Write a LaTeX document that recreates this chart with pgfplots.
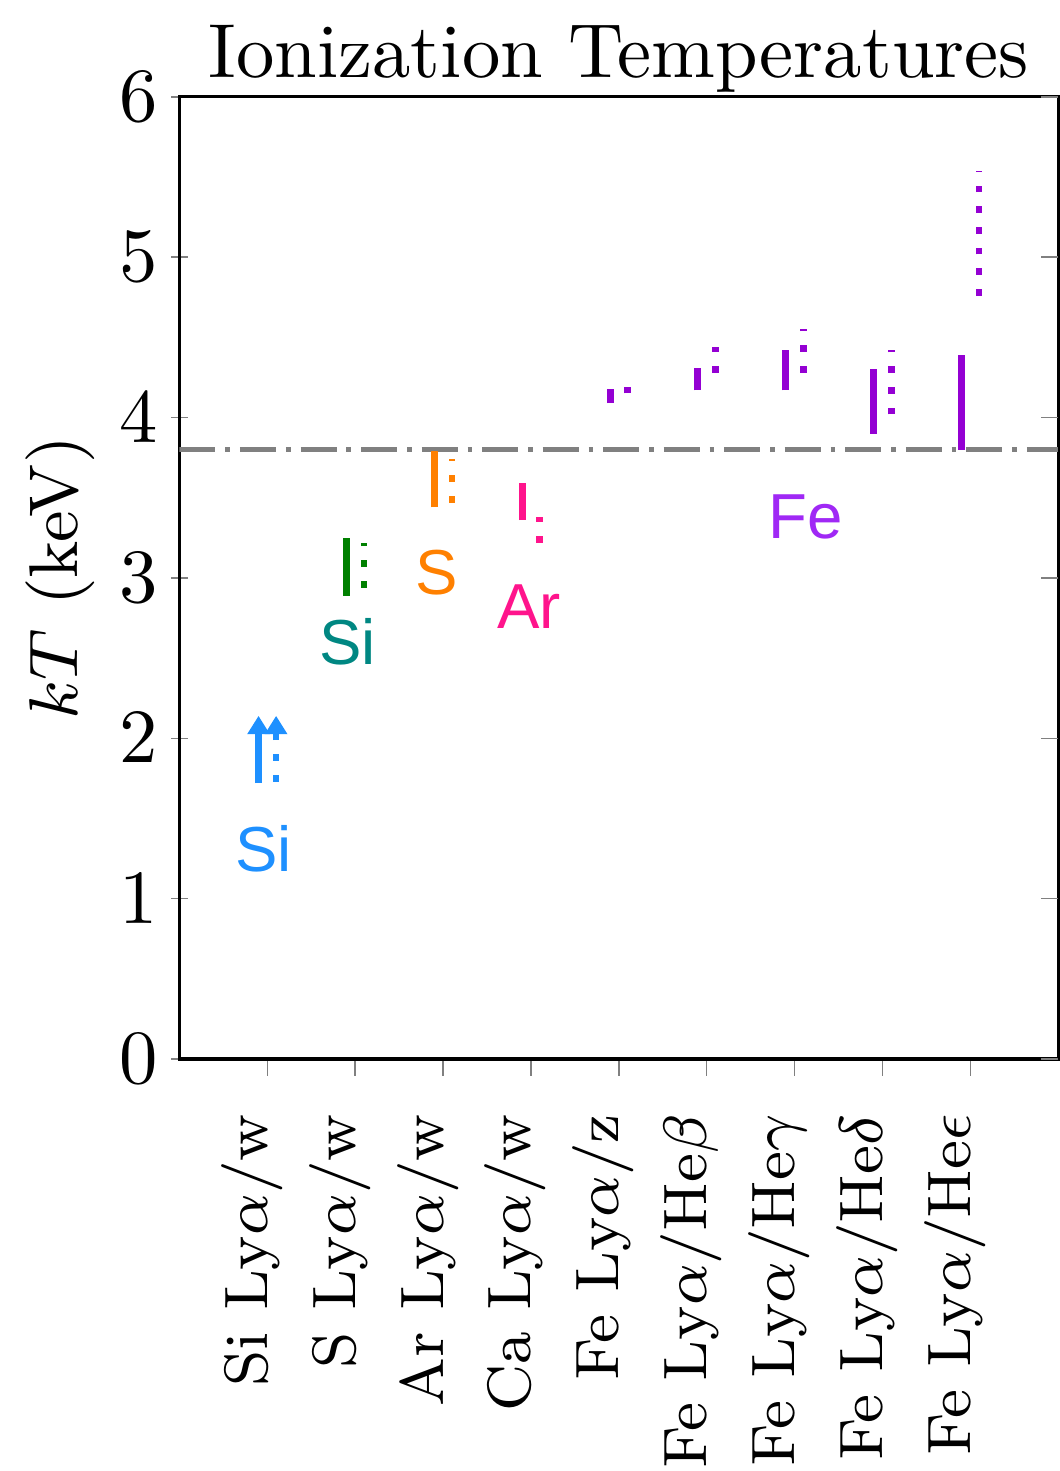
\documentclass[border=0pt]{standalone}
\usepackage{fontspec}
\usepackage{pgfplots}
\pgfplotsset{compat=1.18}
\usetikzlibrary{arrows.meta}
\newfontfamily\lbl{Liberation Sans}
\definecolor{cblue}{RGB}{30,144,255}
\definecolor{cgreen}{RGB}{0,128,0}
\definecolor{cteal}{RGB}{0,135,130}
\definecolor{corange}{RGB}{255,128,0}
\definecolor{cpink}{RGB}{255,20,140}
\definecolor{cpurple}{RGB}{148,0,211}
\definecolor{cfe}{RGB}{160,40,245}
\definecolor{cref}{RGB}{128,128,128}
\begin{document}
\begin{tikzpicture}
\begin{axis}[
  scale only axis,
  width=114.7pt, height=125.6pt,
  xmin=0, xmax=10, ymin=0, ymax=6,
  xtick={1,...,9},
  xticklabels={Si Ly$\alpha$/w, S Ly$\alpha$/w, Ar Ly$\alpha$/w, Ca Ly$\alpha$/w, Fe Ly$\alpha$/z, Fe Ly$\alpha$/He$\beta$, Fe Ly$\alpha$/He$\gamma$, Fe Ly$\alpha$/He$\delta$, Fe Ly$\alpha$/He$\epsilon$},
  xticklabel style={rotate=90, anchor=base east, font=\footnotesize, inner ysep=0pt, inner xsep=0.3pt, xshift=-4.5pt},
  ytick={0,...,6},
  xtick pos=bottom, xtick align=outside,
  ytick pos=left, ytick align=center,
  extra y ticks={0,...,6},
  extra y tick labels={},
  extra y tick style={ytick pos=right, ytick align=inside},
  major tick length=2.2pt,
  yticklabel style={xshift=1.8pt},
  title={Ionization Temperatures},
  title style={yshift=-9pt},
  ylabel={$kT$ (keV)},
  ylabel style={font=\small},
  ylabel shift=-4.7pt,
  solid seg/.style={line width=0.9pt},
  dot seg/.style={line width=0.85pt, dash pattern=on 0.85pt off 1.85pt},
]
% reference temperature
\addplot[cref, line width=0.6pt, dash pattern=on 4.7pt off 1.3pt on 0.6pt off 1.3pt] coordinates {(0,3.8) (10,3.8)};
% Si Lya/w (lower limits)
\addplot[cblue, solid seg, -{Triangle[width=2.8pt,length=2.4pt]}] coordinates {(0.9,1.72) (0.9,2.14)};
\addplot[cblue, dot seg, -{Triangle[width=2.8pt,length=2.4pt]}] coordinates {(1.1,1.73) (1.1,2.14)};
% S Lya/w
\addplot[cgreen, solid seg] coordinates {(1.9,2.89) (1.9,3.25)};
\addplot[cgreen, dot seg] coordinates {(2.1,2.94) (2.1,3.22)};
% Ar Lya/w
\addplot[corange, solid seg] coordinates {(2.9,3.44) (2.9,3.79)};
\addplot[corange, dot seg] coordinates {(3.1,3.47) (3.1,3.74)};
% Ca Lya/w
\addplot[cpink, solid seg] coordinates {(3.9,3.36) (3.9,3.59)};
\addplot[cpink, dot seg] coordinates {(4.1,3.22) (4.1,3.38)};
% Fe Lya/z
\addplot[cpurple, solid seg] coordinates {(4.9,4.09) (4.9,4.18)};
\addplot[cpurple, dot seg] coordinates {(5.1,4.15) (5.1,4.19)};
% Fe Lya/Hebeta
\addplot[cpurple, solid seg] coordinates {(5.9,4.17) (5.9,4.31)};
\addplot[cpurple, dot seg] coordinates {(6.1,4.28) (6.1,4.44)};
% Fe Lya/Hegamma
\addplot[cpurple, solid seg] coordinates {(6.9,4.17) (6.9,4.42)};
\addplot[cpurple, dot seg] coordinates {(7.1,4.28) (7.1,4.55)};
% Fe Lya/Hedelta
\addplot[cpurple, solid seg] coordinates {(7.9,3.90) (7.9,4.30)};
\addplot[cpurple, dot seg] coordinates {(8.1,4.02) (8.1,4.42)};
% Fe Lya/Heepsilon
\addplot[cpurple, solid seg] coordinates {(8.9,3.80) (8.9,4.39)};
\addplot[cpurple, dot seg] coordinates {(9.1,4.76) (9.1,5.54)};
% element labels
\node[cblue, font=\lbl\fontsize{8.3}{10}\selectfont] at (axis cs:0.96,1.31) {Si};
\node[cteal, font=\lbl\fontsize{8.3}{10}\selectfont] at (axis cs:1.91,2.60) {Si};
\node[corange, font=\lbl\fontsize{8.3}{10}\selectfont] at (axis cs:2.93,3.03) {S};
\node[cpink, font=\lbl\fontsize{8.3}{10}\selectfont] at (axis cs:3.98,2.82) {Ar};
\node[cfe, font=\lbl\fontsize{8.3}{10}\selectfont] at (axis cs:7.13,3.38) {Fe};
\end{axis}
\end{tikzpicture}
\end{document}
